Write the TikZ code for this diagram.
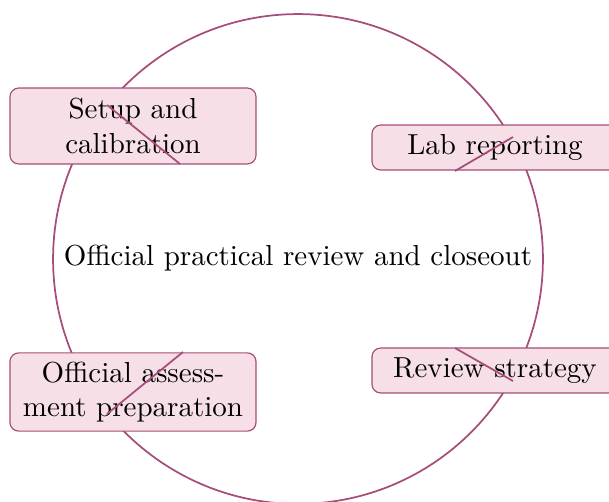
\documentclass[tikz,border=0pt]{standalone}
\usetikzlibrary{positioning}

\definecolor{ringcol}{RGB}{166,77,121}
\definecolor{boxfill}{RGB}{246,223,231}

\tikzset{
    stagebox/.style={draw=ringcol, thin, fill=boxfill, rounded corners=3pt,
        align=center, text width=76pt, minimum width=84.9pt,
        minimum height=15.5pt, inner sep=3pt},
    tallbox/.style={stagebox, minimum height=26.2pt},
    ringline/.style={draw=ringcol, semithick}
}

\begin{document}
\begin{tikzpicture}[x=0.345pt, y=-0.345pt]
    \useasboundingbox (0,0) rectangle (609,501);

    % Draw the ring
    \draw[ringline] (298,259) circle (84.5pt);

    % Draw the centre label
    \node (hub) at (298,258) {Official practical review and closeout};

    % Draw the stages round the ring
    \node[tallbox] (setup) at (133,126) {Setup and\\calibration};
    \node[stagebox] (lab) at (495,147.5) {Lab reporting};
    \node[stagebox] (review) at (495,370.5) {Review strategy};
    \node[tallbox] (assess) at (133,392) {Official assess-\\ment preparation};

    % Draw the short strokes across the stages
    \coordinate (s1) at (107,105);
    \coordinate (s2) at (180,164);
    \coordinate (l1) at (455,171);
    \coordinate (l2) at (513,137);
    \coordinate (r1) at (455,348);
    \coordinate (r2) at (513,381);
    \coordinate (a1) at (183,352);
    \coordinate (a2) at (107,414);
    \draw[ringline] (s1) -- (s2);
    \draw[ringline] (l1) -- (l2);
    \draw[ringline] (r1) -- (r2);
    \draw[ringline] (a1) -- (a2);
\end{tikzpicture}
\end{document}
